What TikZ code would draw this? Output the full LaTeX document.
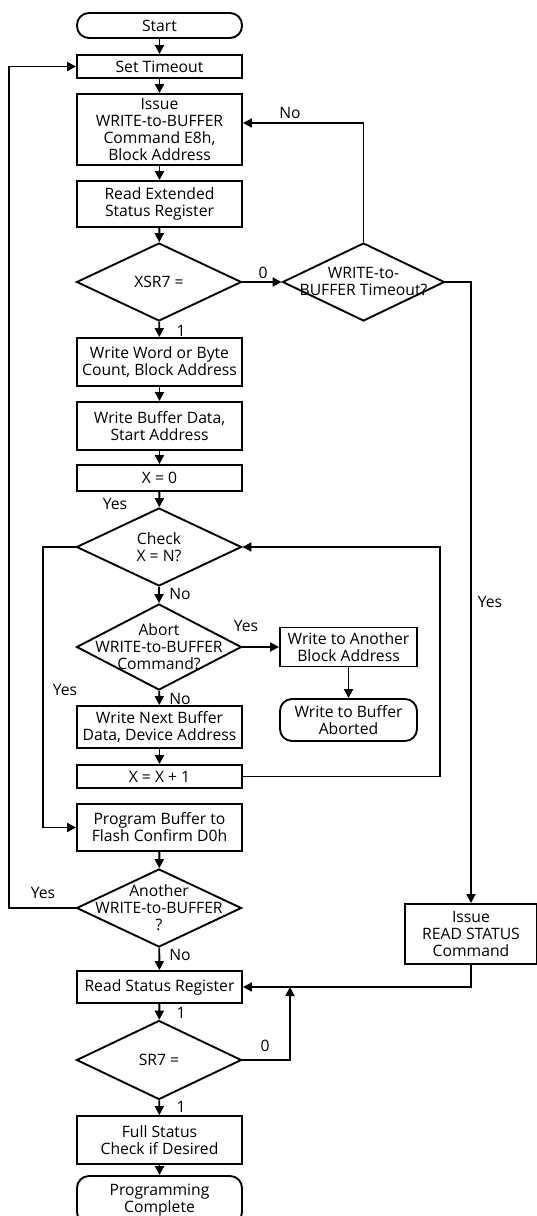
\documentclass[tikz,border=0pt]{standalone}
\usepackage{fontspec}
\setmainfont{Open Sans}
\usetikzlibrary{shapes.geometric,arrows.meta}
\newcommand\myfs{\fontsize{15.7}{17}\selectfont}
\begin{document}
\begin{tikzpicture}[x=1pt,y=-1pt,
  box/.style={draw, line width=1.9pt, minimum width=165pt, inner sep=0pt, align=center, font=\myfs},
  term/.style={box, rounded corners=12pt},
  dec/.style={draw, diamond, line width=1.9pt, minimum width=165pt, minimum height=78pt, inner sep=0pt},
  dtext/.style={align=center, font=\myfs, inner sep=0pt},
  lab/.style={font=\myfs, inner sep=0pt},
  arr/.style={-{Triangle[length=9pt,width=9pt]}, line width=1.9pt},
  ln/.style={line width=1.9pt}]
\useasboundingbox[fill=white] (0,0) rectangle (536,1216);

\node[term, minimum height=25pt] (start) at (159.5,25.5) {Start};
\node[box, minimum height=23pt] (timeout) at (159.5,66.5) {Set Timeout};
\node[box, minimum height=71pt] (issue) at (159.5,129.5) {Issue\\WRITE-to-BUFFER\\Command E8h,\\Block Address};
\node[box, minimum height=46pt] (rext) at (159.5,204) {Read Extended\\Status Register};
\node[dec] (xsr) at (159,282) {};
\node[dtext] (xsrt) at (xsr.center) {XSR7 =};
\node[dec, minimum width=162pt] (tmo) at (363.5,282) {};
\node[dtext] (tmot) at (tmo.center) {WRITE-to-\\BUFFER Timeout?};
\node[box, minimum height=48pt] (wwc) at (159.5,362) {Write Word or Byte\\Count, Block Address};
\node[box, minimum height=48pt] (wbd) at (159.5,426) {Write Buffer Data,\\Start Address};
\node[box, minimum height=26pt] (x0) at (159.5,478) {X = 0};
\node[dec] (chk) at (159,547) {};
\node[dtext] (chkt) at (chk.center) {Check\\X = N?};
\node[dec, minimum height=86pt] (abort) at (159,647) {};
\node[dtext] (abortt) at (abort.center) {Abort\\WRITE-to-BUFFER\\Command?};
\node[box, minimum width=137pt, minimum height=39pt] (wab) at (348.5,647) {Write to Another\\Block Address};
\node[term, minimum width=137pt, minimum height=42pt] (abd) at (348.5,720) {Write to Buffer\\Aborted};
\node[box, minimum height=42pt] (wnb) at (159.5,727) {Write Next Buffer\\Data, Device Address};
\node[box, minimum height=23pt] (xx1) at (159.5,776.5) {X = X + 1};
\node[box, minimum height=47pt] (pbf) at (159.5,827.5) {Program Buffer to\\Flash Confirm D0h};
\node[dec] (another) at (159,908) {};
\node[dtext] (anothert) at (another.center) {Another\\WRITE-to-BUFFER\\?};
\node[box, minimum width=132pt, minimum height=60pt] (rsc) at (471,934) {Issue\\READ STATUS\\Command};
\node[box, minimum height=32pt] (rsr) at (159.5,987) {Read Status Register};
\node[dec, minimum height=79pt] (sr7) at (159,1060) {};
\node[dtext] (sr7t) at (sr7.center) {SR7 =};
\node[box, minimum height=48pt] (full) at (159.5,1140) {Full Status\\Check if Desired};
\node[term, minimum height=48pt] (pc) at (159.5,1200) {Programming\\Complete};

% main column
\draw[arr] (start) -- (timeout);
\draw[arr] (timeout) -- (issue);
\draw[arr] (issue) -- (rext);
\draw[arr] (rext) -- (xsr);
\draw[arr] (xsr) -- (wwc);
\draw[arr] (wwc) -- (wbd);
\draw[arr] (wbd) -- (x0);
\draw[arr] (x0) -- (chk);
\draw[arr] (chk) -- (abort);
\draw[arr] (abort) -- (wnb);
\draw[arr] (wnb) -- (xx1);
\draw[arr] (pbf) -- (another);
\draw[arr] (another) -- (rsr);
\draw[arr] (rsr) -- (sr7);
\draw[arr] (sr7) -- (full);
\draw[arr] (full) -- (pc);

% side branches
\draw[arr] (xsr.east) -- (tmo.west);
\draw[arr] (tmo.north) |- ([yshift=6.5pt]issue.east);
\draw[arr] (tmo.east) -| (rsc.north);
\draw[arr] (abort.east) -- (wab.west);
\draw[arr] (wab) -- (abd);
\draw[arr] (chk.west) -- ++(-33,0) |- (pbf.west);
\draw[arr] (xx1.east) -- ++(197,0) |- (chk.east);
\draw[arr] (another.west) -- ++(-67,0) |- (timeout.west);
\draw[arr] (rsc.south) |- (rsr.east);
\coordinate (join) at (290,987);
\draw[arr] (sr7.east) -| (join);

% labels
\node[lab] (l1) at (290,113) {No};
\node[lab] (l2) at (263,273) {0};
\node[lab] (l3) at (181,331) {1};
\node[lab] (l4) at (490,602) {Yes};
\node[lab] (l5) at (115,504) {Yes};
\node[lab] (l6) at (180,594) {No};
\node[lab] (l7) at (246,626) {Yes};
\node[lab] (l8) at (65,690) {Yes};
\node[lab] (l9) at (180,699) {No};
\node[lab] (l10) at (43,893) {Yes};
\node[lab] (l11) at (180,955) {No};
\node[lab] (l12) at (181,1013) {1};
\node[lab] (l13) at (265,1046) {0};
\node[lab] (l14) at (181,1107) {1};
\end{tikzpicture}
\end{document}
